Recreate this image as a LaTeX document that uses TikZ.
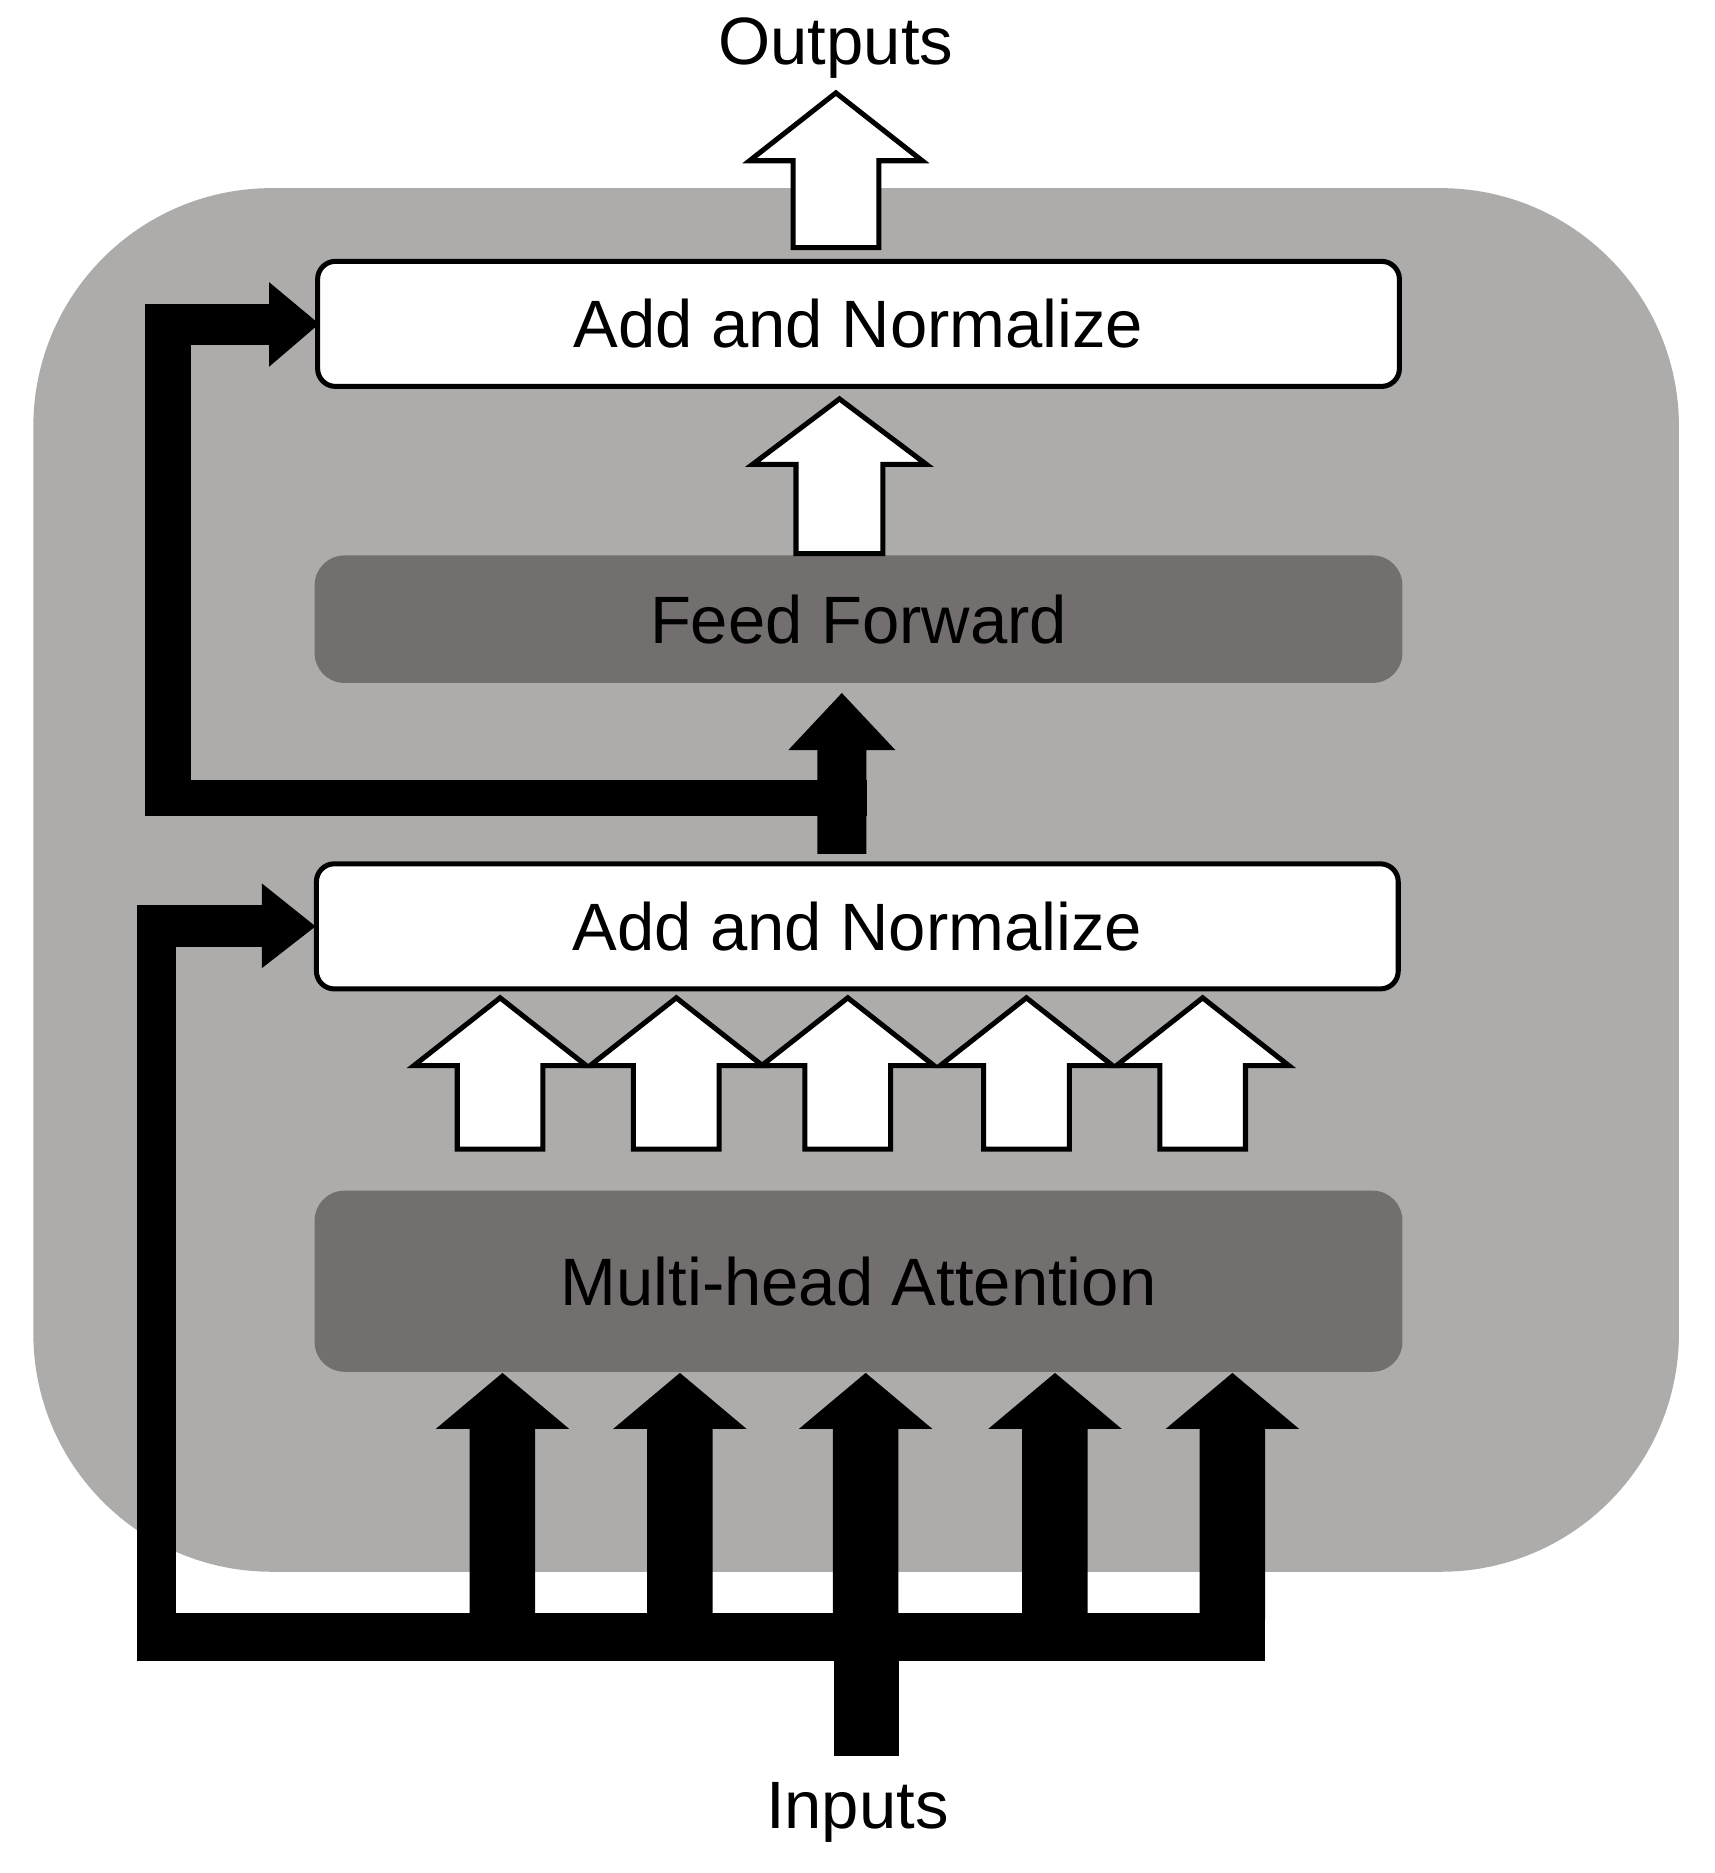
\documentclass[tikz,border=0pt]{standalone}
\usepackage{fontspec}
\setmainfont{Liberation Sans}
\usetikzlibrary{positioning}

% hollow block arrow: centre x, shaft bottom, head base, tip, shaft width, head width
\newcommand{\hollowarrow}[6]{%
  \draw[blockline, fill=white] ({#1-#5/2},#2) -- ({#1-#5/2},#3) -- ({#1-#6/2},#3) -- (#1,#4)
    -- ({#1+#6/2},#3) -- ({#1+#5/2},#3) -- ({#1+#5/2},#2) -- cycle;}
% solid block arrow
\newcommand{\solidarrow}[6]{%
  \fill ({#1-#5/2},#2) -- ({#1-#5/2},#3) -- ({#1-#6/2},#3) -- (#1,#4)
    -- ({#1+#6/2},#3) -- ({#1+#5/2},#3) -- ({#1+#5/2},#2) -- cycle;}

\tikzset{
  blockline/.style={line width=1.2pt, line join=miter},
  addbox/.style={draw, blockline, fill=white, rounded corners=0.15cm,
    minimum width=9.08cm, minimum height=1.05cm, font=\fontsize{16}{18}\selectfont},
  layerbox/.style={fill=layergray, rounded corners=0.25cm,
    minimum width=9.13cm, font=\fontsize{16}{18}\selectfont},
  label/.style={font=\fontsize{16}{18}\selectfont}
}
\definecolor{backgray}{RGB}{173,172,171}
\definecolor{layergray}{RGB}{115,111,110}

\begin{document}
\begin{tikzpicture}[x=0.01cm, y=-0.01cm]
\useasboundingbox (0,0) rectangle (1440,1573);

% Encoder block
\fill[backgray, rounded corners=2cm] (28,158) rectangle (1410,1320);

% Layers
\node[addbox] (addtop) at (721,272) {Add and Normalize};
\node[layerbox, minimum height=1.07cm] (ffn) at (721,520) {Feed Forward};
\node[addbox] (addbot) at (720,778) {Add and Normalize};
\node[layerbox, minimum height=1.52cm] (mha) at (721,1076) {Multi-head Attention};

\node[label] (out) at (702,40) {Outputs};
\node[label] (in) at (720,1522) {Inputs};

% White arrows
\hollowarrow{702}{208}{135}{78}{72}{145}
\hollowarrow{705}{465}{390}{335}{73}{146}
\foreach \cx in {420,568,712,862,1010} {
  \hollowarrow{\cx}{965}{895}{838}{72}{145}
}

% Inputs fan-out
\fill (700,1475) rectangle (755,1355);
\fill (115,1355) rectangle (1062,1395);
\foreach \cx in {422,571,727,886,1035} {
  \solidarrow{\cx}{1360}{1200}{1153}{55}{112}
}

% Residual into lower Add and Normalize
\fill (115,1395) rectangle (148,760);
\fill (115,760) rectangle (222,795);
\fill (220,742) -- (265,778) -- (220,813) -- cycle;

% Residual into upper Add and Normalize
\solidarrow{707}{717}{630}{582}{41}{90}
\fill (122,655) rectangle (728,685);
\fill (122,685) rectangle (160,255);
\fill (122,255) rectangle (228,290);
\fill (226,237) -- (268,272) -- (226,308) -- cycle;

\end{tikzpicture}
\end{document}
